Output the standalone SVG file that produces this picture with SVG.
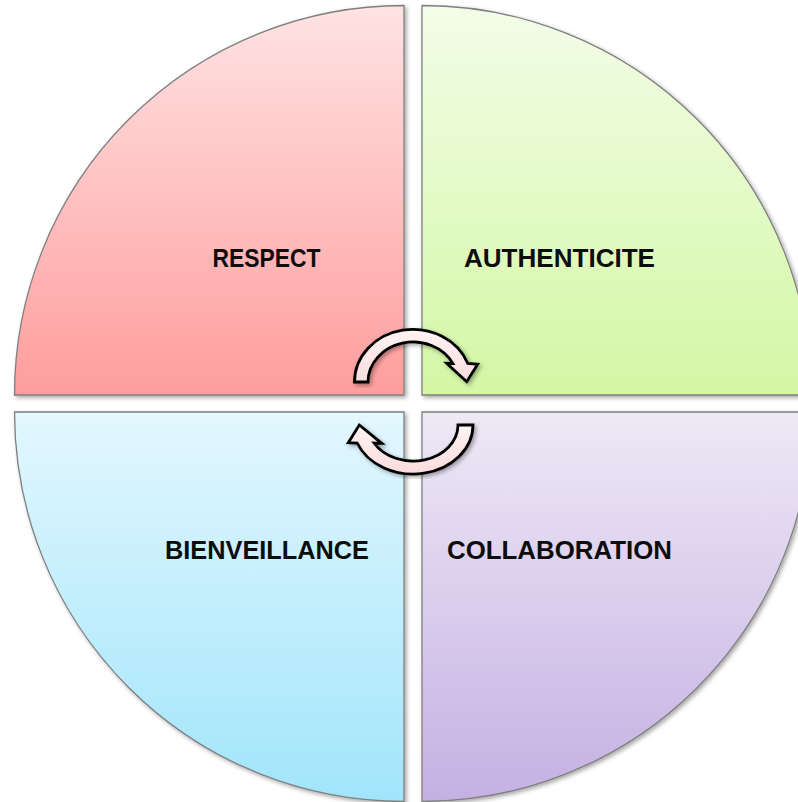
<svg xmlns="http://www.w3.org/2000/svg" width="798" height="802" viewBox="0 0 798 802">
  <defs>
    <linearGradient id="gRed" x1="0" y1="0" x2="0" y2="1">
      <stop offset="0" stop-color="#ffe3e3"/>
      <stop offset="1" stop-color="#ff9d9d"/>
    </linearGradient>
    <linearGradient id="gGreen" x1="0" y1="0" x2="0" y2="1">
      <stop offset="0" stop-color="#f3fde8"/>
      <stop offset="1" stop-color="#d3f7a4"/>
    </linearGradient>
    <linearGradient id="gBlue" x1="0" y1="0" x2="0" y2="1">
      <stop offset="0" stop-color="#e3f7fe"/>
      <stop offset="1" stop-color="#a1e5fb"/>
    </linearGradient>
    <linearGradient id="gPurple" x1="0" y1="0" x2="0" y2="1">
      <stop offset="0" stop-color="#eee9f6"/>
      <stop offset="1" stop-color="#c5b0e3"/>
    </linearGradient>
    <linearGradient id="gArrow" x1="0" y1="0" x2="0" y2="1">
      <stop offset="0" stop-color="#fff3f3"/>
      <stop offset="1" stop-color="#fbdcdc"/>
    </linearGradient>
    <filter id="shadow" x="-10%" y="-10%" width="120%" height="120%">
      <feDropShadow dx="2" dy="2" stdDeviation="2" flood-color="#000" flood-opacity="0.35"/>
    </filter>
  </defs>
  <style>
    .quad { stroke: #7f7f7f; stroke-width: 1.3; filter: url(#shadow); }
    .arrow { fill: url(#gArrow); stroke: #000; stroke-width: 2.8; stroke-linejoin: miter; filter: url(#shadow); }
    .label { font-family: "Liberation Sans", Arial, sans-serif; font-weight: bold; font-size: 26px; fill: #0d0d0d; }
  </style>
  <rect width="798" height="802" fill="#ffffff"/>

  <g id="respect">
    <path class="quad" fill="url(#gRed)" d="M 404 395 L 404 5.5 A 389.5 389.5 0 0 0 14.5 395 Z"/>
    <text class="label" x="212.5" y="266.5" textLength="108" lengthAdjust="spacingAndGlyphs">RESPECT</text>
  </g>
  <g id="authenticite">
    <path class="quad" fill="url(#gGreen)" d="M 422 395 L 422 5.5 A 389.5 389.5 0 0 1 811.5 395 Z"/>
    <text class="label" x="464" y="266.5" textLength="191" lengthAdjust="spacingAndGlyphs">AUTHENTICITE</text>
  </g>
  <g id="bienveillance">
    <path class="quad" fill="url(#gBlue)" d="M 404 412 L 14.5 412 A 389.5 389.5 0 0 0 404 801.5 Z"/>
    <text class="label" x="165" y="559" textLength="204" lengthAdjust="spacingAndGlyphs">BIENVEILLANCE</text>
  </g>
  <g id="collaboration">
    <path class="quad" fill="url(#gPurple)" d="M 422 412 L 811.5 412 A 389.5 389.5 0 0 1 422 801.5 Z"/>
    <text class="label" x="447" y="559" textLength="225" lengthAdjust="spacingAndGlyphs">COLLABORATION</text>
  </g>

  <g id="connectors">
    <path class="arrow" d="M 354.5 382 A 58.5 52.5 0 0 1 467.8 363.5 L 477.7 364.3 L 466.7 381.7 L 446.7 363.3 L 452.9 363.5 A 45 40 0 0 0 368 382 Z"/>
    <path class="arrow" d="M 473 425 A 60 49 0 0 1 357.2 443 L 348.3 442.7 L 359.3 425 L 381.7 443.3 L 374 443 A 45 36 0 0 0 458 425 Z"/>
  </g>
</svg>
